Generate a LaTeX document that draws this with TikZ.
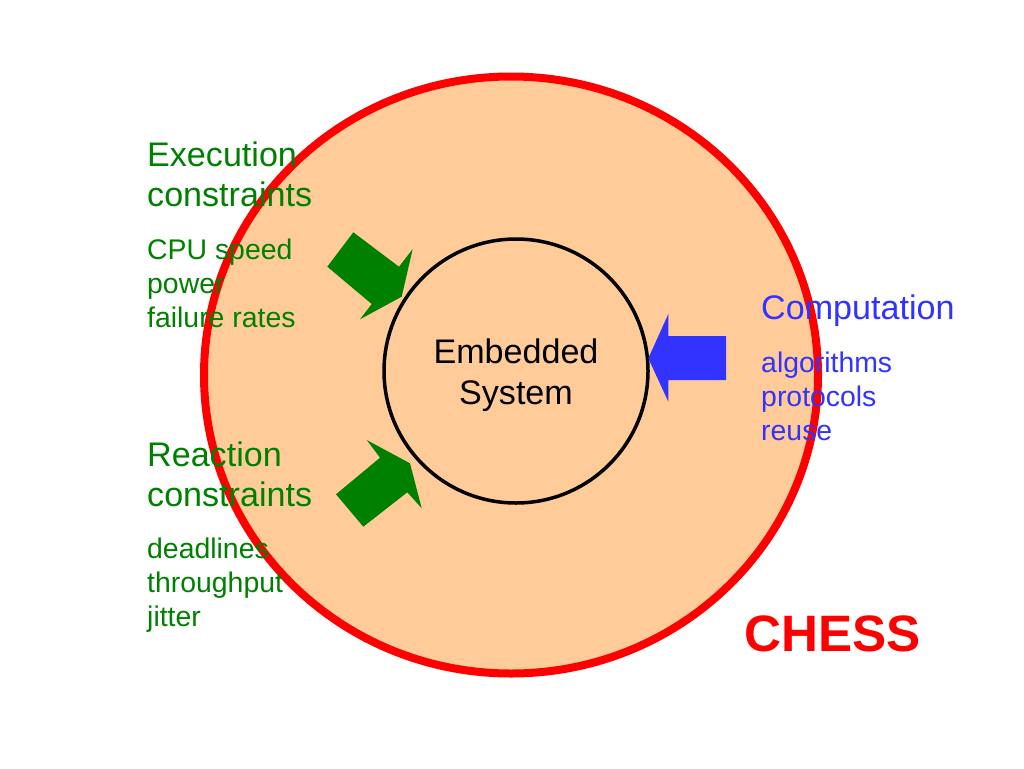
\documentclass[tikz,border=0pt]{standalone}
\usepackage{fontspec}
\setmainfont{Liberation Sans}
\usetikzlibrary{shapes.geometric}
\definecolor{peach}{HTML}{FFCC99}
\definecolor{dgreen}{HTML}{008000}
\definecolor{cblue}{HTML}{3333FF}
\definecolor{cred}{HTML}{FF0000}
\begin{document}
\begin{tikzpicture}[x=1pt,y=-1pt,
  headtxt/.style={font=\fontsize{34.1}{41}\selectfont, anchor=base west, inner sep=0pt},
  itemtxt/.style={font=\fontsize{28.4}{34}\selectfont, anchor=base west, inner sep=0pt},
  centertxt/.style={font=\fontsize{34.1}{41}\selectfont, anchor=base, inner sep=0pt, text=black},
  greenarrow/.style={fill=dgreen, draw=none},
  bluearrow/.style={fill=cblue, draw=none}]
\useasboundingbox (0,0) rectangle (1024,768);
\fill[white] (0,0) rectangle (1024,768);
% outer CHESS ring
\node[ellipse, draw=cred, line width=8pt, fill=peach, minimum width=614pt, minimum height=597pt, inner sep=0pt] (ring) at (511,375) {};
% embedded system circle
\node[circle, draw=black, line width=3.5pt, minimum size=264pt, inner sep=0pt] (es) at (516,371) {};
\node[centertxt] (emb) at (516,363) {Embedded};
\node[centertxt] (sys) at (516,404) {System};
% arrows
\path[greenarrow] (353.3,232.3) -- (399,266.7) -- (412.7,249) -- (401.7,296.7) -- (360,319.3) -- (371.7,304) -- (327.3,266.7) -- cycle;
\path[greenarrow] (366.7,440) -- (410,463.3) -- (421.7,508.3) -- (407.3,492.3) -- (363.3,526.7) -- (336,494.3) -- (380,457.7) -- cycle;
\path[bluearrow] (648.3,358.3) -- (668.3,314) -- (668.3,336) -- (726,336) -- (726,380) -- (668.3,380) -- (668.3,401.7) -- cycle;
% execution constraints
\node[headtxt, text=dgreen] (ex1) at (147,166) {Execution};
\node[headtxt, text=dgreen] (ex2) at (147,206) {constraints};
\node[itemtxt, text=dgreen] (ex3) at (147,259) {CPU speed};
\node[itemtxt, text=dgreen] (ex4) at (147,293) {power};
\node[itemtxt, text=dgreen] (ex5) at (147,327) {failure rates};
% reaction constraints
\node[headtxt, text=dgreen] (re1) at (147,466) {Reaction};
\node[headtxt, text=dgreen] (re2) at (147,506) {constraints};
\node[itemtxt, text=dgreen] (re3) at (147,558) {deadlines};
\node[itemtxt, text=dgreen] (re4) at (147,592) {throughput};
\node[itemtxt, text=dgreen] (re5) at (147,626) {jitter};
% computation
\node[headtxt, text=cblue] (co1) at (761,319.5) {Computation};
\node[itemtxt, text=cblue] (co2) at (761,372) {algorithms};
\node[itemtxt, text=cblue] (co3) at (761,406) {protocols};
\node[itemtxt, text=cblue] (co4) at (761,440) {reuse};
% CHESS
\node[font=\fontsize{51.2}{60}\selectfont\bfseries, anchor=base west, inner sep=0pt, text=cred] (chess) at (744.5,651.7) {CHESS};
\end{tikzpicture}
\end{document}
